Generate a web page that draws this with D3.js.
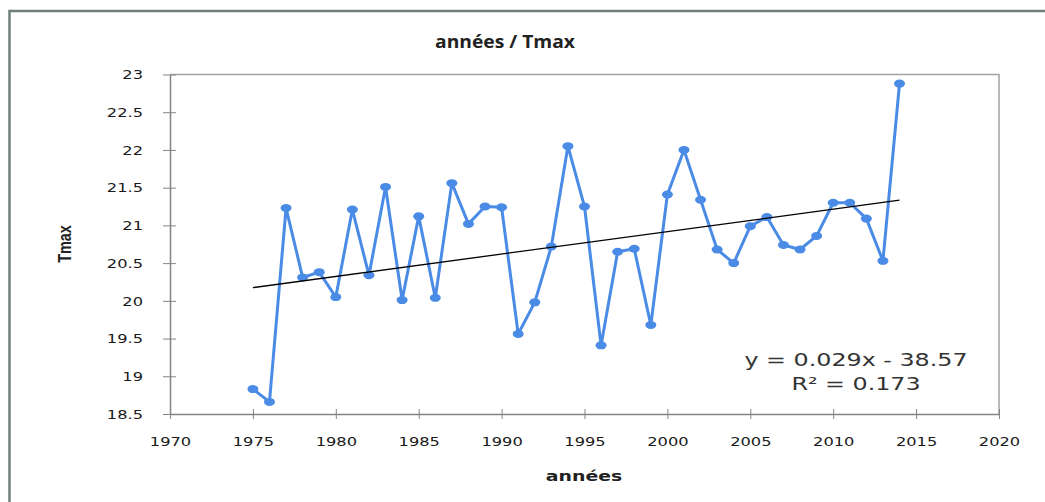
<!DOCTYPE html>
<html lang="fr">
<head>
    <meta charset="UTF-8">
    <title>années / Tmax</title>
    <script src="https://d3js.org/d3.v7.min.js"></script>
    <style>
        body {
            margin: 0;
            padding: 0;
            background-color: #ffffff;
        }
        svg {
            display: block;
        }
        .tick text {
            font-family: "DejaVu Sans", Verdana, sans-serif;
            font-size: 13px;
            fill: #1a1a1a;
        }
        .domain, .tick line {
            stroke: #858585;
        }
    </style>
</head>
<body>
    <svg width="1045" height="502"></svg>
    <script>
        // années / Tmax
        const years = [1975, 1976, 1977, 1978, 1979, 1980, 1981, 1982, 1983, 1984,
                       1985, 1986, 1987, 1988, 1989, 1990, 1991, 1992, 1993, 1994,
                       1995, 1996, 1997, 1998, 1999, 2000, 2001, 2002, 2003, 2004,
                       2005, 2006, 2007, 2008, 2009, 2010, 2011, 2012, 2013, 2014];
        const tmax = [18.83, 18.66, 21.23, 20.31, 20.38, 20.05, 21.21, 20.34, 21.51, 20.01,
                      21.12, 20.04, 21.56, 21.02, 21.25, 21.24, 19.56, 19.98, 20.72, 22.05,
                      21.25, 19.41, 20.65, 20.69, 19.68, 21.41, 22.00, 21.34, 20.68, 20.50,
                      20.99, 21.11, 20.74, 20.68, 20.86, 21.30, 21.30, 21.09, 20.53, 22.88];
        const xTicks = [1970, 1975, 1980, 1985, 1990, 1995, 2000, 2005, 2010, 2015, 2020];
        const yTicks = [18.5, 19, 19.5, 20, 20.5, 21, 21.5, 22, 22.5, 23];
        const equation = ["y = 0.029x - 38.57", "R² = 0.173"];

        const data = years.map((y, i) => ({ year: y, value: tmax[i] }));

        const svg = d3.select("svg");
        const plot = { left: 170, right: 999, top: 74.5, bottom: 414 };
        const stretch = 1.25; // text in the picture is widened

        const x = d3.scaleLinear().domain([1970, 2020]).range([plot.left, plot.right]);
        const y = d3.scaleLinear().domain([18.5, 23]).range([plot.bottom, plot.top]);

        // outer frame (cut by the picture edges)
        svg.append("path")
            .attr("d", `M9.5,502 L9.5,11 L1045,11`)
            .attr("fill", "none")
            .attr("stroke", "#6f8079")
            .attr("stroke-width", 2.5);

        // plot area top / right border
        svg.append("path")
            .attr("d", `M${plot.left},${plot.top} L${plot.right},${plot.top} L${plot.right},${plot.bottom}`)
            .attr("fill", "none")
            .attr("stroke", "#a3a3a3")
            .attr("stroke-width", 1.5);

        // axes
        const yAxis = svg.append("g")
            .attr("transform", `translate(${plot.left},0)`)
            .call(d3.axisLeft(y).tickValues(yTicks).tickSize(7).tickSizeOuter(0)
                .tickFormat(d => d % 1 === 0 ? d : d.toFixed(1)));
        yAxis.selectAll(".tick line").attr("x1", 6).attr("x2", -7);
        yAxis.selectAll(".tick text")
            .attr("x", -27 / stretch)
            .attr("transform", `scale(${stretch},1)`);
        yAxis.select(".domain").attr("stroke-width", 1.5);

        const xAxis = svg.append("g")
            .attr("transform", `translate(0,${plot.bottom})`)
            .call(d3.axisBottom(x).tickValues(xTicks).tickSize(5).tickSizeOuter(0)
                .tickFormat(d3.format("d")));
        xAxis.selectAll(".tick line").attr("y1", -5).attr("y2", 5);
        xAxis.selectAll(".tick text")
            .attr("y", 23)
            .attr("transform", `scale(${stretch},1)`);
        xAxis.select(".domain").attr("stroke-width", 1.5);

        // series
        const line = d3.line().x(d => x(d.year)).y(d => y(d.value));
        svg.append("path")
            .datum(data)
            .attr("d", line)
            .attr("fill", "none")
            .attr("stroke", "#4a8be6")
            .attr("stroke-width", 3)
            .attr("stroke-linejoin", "round");

        svg.append("g")
            .selectAll("ellipse")
            .data(data)
            .join("ellipse")
            .attr("cx", d => x(d.year))
            .attr("cy", d => y(d.value))
            .attr("rx", 5.5)
            .attr("ry", 4)
            .attr("fill", "#4a8be6");

        // linear trend (least squares)
        const mx = d3.mean(years), my = d3.mean(tmax);
        const slope = d3.sum(data, d => (d.year - mx) * (d.value - my)) /
                      d3.sum(data, d => (d.year - mx) ** 2);
        const icpt = my - slope * mx;
        const ends = [years[0], years[years.length - 1]];
        svg.append("line")
            .attr("x1", x(ends[0])).attr("y1", y(icpt + slope * ends[0]))
            .attr("x2", x(ends[1])).attr("y2", y(icpt + slope * ends[1]))
            .attr("stroke", "#000")
            .attr("stroke-width", 1.3);

        // equation
        svg.append("g")
            .selectAll("text")
            .data(equation)
            .join("text")
            .attr("transform", (d, i) => `translate(856,${366 + i * 24}) scale(1.4,1)`)
            .attr("text-anchor", "middle")
            .attr("font-family", "DejaVu Sans, Verdana, sans-serif")
            .attr("font-size", 17)
            .attr("fill", "#333")
            .text(d => d);

        // titles
        svg.append("text")
            .attr("transform", "translate(505,48) scale(1.1,1)")
            .attr("text-anchor", "middle")
            .attr("font-family", "Open Sans, Liberation Sans, sans-serif")
            .attr("font-weight", "bold")
            .attr("font-size", 17.5)
            .attr("fill", "#222")
            .text("années / Tmax");

        svg.append("text")
            .attr("transform", "translate(584,481) scale(1.35,1)")
            .attr("text-anchor", "middle")
            .attr("font-family", "DejaVu Sans, Verdana, sans-serif")
            .attr("font-weight", "bold")
            .attr("font-size", 14)
            .attr("fill", "#222")
            .text("années");

        svg.append("text")
            .attr("transform", "translate(71,244) rotate(-90) scale(0.8,1)")
            .attr("text-anchor", "middle")
            .attr("font-family", "Liberation Sans, Arial, sans-serif")
            .attr("font-weight", "bold")
            .attr("font-size", 18)
            .attr("fill", "#222")
            .text("Tmax");
    </script>
</body>
</html>
